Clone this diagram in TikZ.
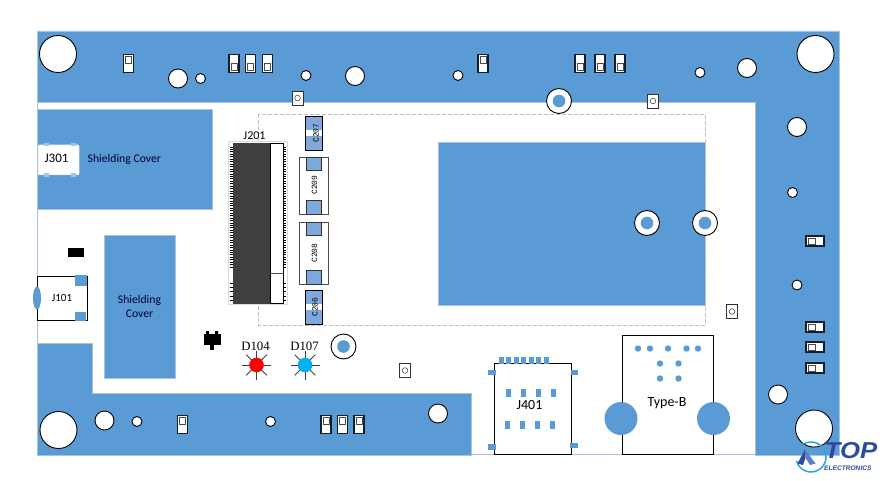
\documentclass[tikz,border=0pt]{standalone}
\usepackage{fontspec}
\setmainfont{Carlito}
\newfontfamily\serifcode{Liberation Serif}
\newfontfamily\monocode{Liberation Mono}
\newfontfamily\logofont{Liberation Sans}
\usetikzlibrary{calc}
\definecolor{pcb}{HTML}{5B9BD5}
\definecolor{pcbedge}{HTML}{A9C4E0}
\definecolor{padblue}{HTML}{7FA8DC}
\definecolor{darkic}{HTML}{404040}
\definecolor{logoblue}{HTML}{2E4A9E}
\definecolor{logomid}{HTML}{5B7FC4}
\definecolor{logocyan}{HTML}{2FA5DC}
\definecolor{ledblue}{HTML}{00B0F0}
\tikzset{
  pcbfill/.style={fill=pcb,draw=pcbedge,line width=.8pt},
  lbl/.style={inner sep=0pt,text=black,font=\fontsize{11}{12}\selectfont},
  lblshield/.style={inner sep=0pt,text=black!80!blue,font=\fontsize{11.7}{13}\selectfont},
  lblbig/.style={inner sep=0pt,text=black,font=\fontsize{14}{15}\selectfont},
  hole/.style={circle,draw=black,fill=white,line width=.9pt,inner sep=0pt},
  smdbox/.style={draw=black!80!pcb,fill=white,line width=1.1pt},
  smdin/.style={draw=black!70,fill=white,line width=.8pt},
  clabel/.style={inner sep=0pt,rotate=90,font=\monocode\fontsize{8}{9}\selectfont,text=black},
  ray/.style={draw=black!75,line width=.9pt},
}
\newcommand{\vertup}[2]{%
  \draw[smdbox] (#1-5,#2-9) rectangle (#1+5,#2+9);
  \draw[smdin] (#1-3,#2-7) rectangle (#1+3,#2);}
\newcommand{\vertdn}[2]{%
  \draw[smdbox] (#1-5,#2-9) rectangle (#1+5,#2+9);
  \draw[smdin] (#1-3,#2) rectangle (#1+3,#2+7);}
\newcommand{\horiz}[2]{%
  \draw[smdbox] (#1-9,#2-5) rectangle (#1+9,#2+5);
  \draw[smdin] (#1-7,#2-3) rectangle (#1,#2+3);}
\newcommand{\testpt}[2]{%
  \draw[draw=black!80,fill=white,line width=.9pt] (#1-5.5,#2-7) rectangle (#1+5.5,#2+7);
  \draw[black!70,line width=.6pt] (#1,#2) circle (2.8);}
\newcommand{\ringhole}[2]{%
  \draw[fill=white,draw=black,line width=.9pt] (#1,#2) circle (12.5);
  \fill[pcb] (#1,#2) circle (6.3);}
\newcommand{\led}[3]{%
  \foreach \a in {0,45,...,315}{\draw[ray] ($(#1,#2)+(\a:6)$) -- ($(#1,#2)+(\a:14.5)$);}
  \fill[#3] (#1,#2) circle (7.3);}
\begin{document}
\begin{tikzpicture}[x=1pt,y=-1pt]
\useasboundingbox (0,0) rectangle (885,481);
\fill[white] (0,0) rectangle (885,481);
% board copper
\draw[pcbfill] (37,31) -- (839,31) -- (839,455) -- (755,455) -- (755,102) -- (37,102) -- cycle;
\draw[pcbfill] (37,343) -- (92,343) -- (92,393) -- (471,393) -- (471,455) -- (37,455) -- cycle;
\draw[pcbedge,line width=.8pt] (37,102) -- (37,343) (471,454.5) -- (755,454.5);
% shielding
\draw[pcbfill] (37,109) rectangle (212.500,209);
\draw[pcbfill] (104,235) rectangle (175,378);
\draw[pcbfill] (438,142) rectangle (705,305);
\draw[black!25,line width=.7pt,dash pattern=on 4pt off 2pt] (258,114) rectangle (705,325);
\node[lblshield,anchor=west] (sc1) at (87.500,159.500) {Shielding Cover};
\node[lblshield,align=center] (sc2) at (139.500,306.500) {Shielding\\[1pt]Cover};
% J301
\draw[fill=white,draw=black!15,line width=.5pt,rounded corners=1pt] (38,145) rectangle (79,175);
\foreach \x in {46,73}{\fill[pcbedge] (\x-2.500,143) rectangle (\x+2.500,146.500); \fill[pcbedge] (\x-2.500,173.500) rectangle (\x+2.500,177);}
\node[inner sep=0pt,font=\fontsize{13}{14}\selectfont] (j301) at (56.500,158) {J301};
% J101
\fill[black] (68,248) rectangle (83.500,256.500);
\draw[draw=black,fill=white,line width=.8pt] (37,276.500) rectangle (87,320.500);
\fill[pcb] (75,275) rectangle (87,286);
\fill[pcb] (75,312) rectangle (86,321);
\fill[pcb] (37,298) ellipse (4 and 11.500);
\node[lbl] (j101) at (62,298) {J101};
% J201
\draw[draw=black!15,fill=white,line width=1pt] (228,142) rectangle (287,304);
\node[lbl,font=\fontsize{12}{13}\selectfont] (j201) at (254.500,135.500) {J201};
\foreach \i in {0,...,49}{\draw[black,line width=.8pt] (229.500,{147+\i*2.45}) -- (233,{147+\i*2.45}); \draw[black,line width=.8pt] (283,{147+\i*2.45}) -- (286,{147+\i*2.45});}
\foreach \i in {0,...,4}{\draw[black,line width=.8pt] (229.500,{283+\i*4.3}) -- (233,{283+\i*4.3}); \draw[black,line width=.8pt] (283,{283+\i*4.3}) -- (286,{283+\i*4.3});}
\fill[darkic] (232.500,143.500) rectangle (270.500,303.500);
\draw[draw=black,fill=white,line width=.8pt] (270.500,143.500) rectangle (283,303);
\draw[black!70,line width=.8pt] (270.500,273.500) -- (283,273.500);
% capacitors
\draw[fill=padblue,draw=black,line width=.7pt] (305,116.500) rectangle (322,150);
\fill[white] (305.500,130.500) rectangle (321.500,136.500);
\node[clabel] (c207) at (316,133) {C207};
\draw[draw=black!70,fill=white,line width=.9pt] (299.500,157) rectangle (328,214);
\draw[fill=padblue,draw=black!80,line width=.7pt] (306.500,157) rectangle (321.500,170);
\draw[fill=padblue,draw=black!80,line width=.7pt] (306.500,200) rectangle (321.500,214);
\node[clabel] (c209) at (314.500,185) {C209};
\draw[draw=black!70,fill=white,line width=.9pt] (299.500,222) rectangle (328,284);
\draw[fill=padblue,draw=black!80,line width=.7pt] (306.500,222) rectangle (321.500,235);
\draw[fill=padblue,draw=black!80,line width=.7pt] (306.500,270) rectangle (321.500,284);
\node[clabel] (c208) at (314.500,253) {C208};
\draw[fill=padblue,draw=black,line width=.7pt] (305.500,290.500) rectangle (322,324);
\fill[white] (306,304) rectangle (321.500,310);
\node[clabel] (c206) at (315,307) {C206};
% holes
\foreach \n/\x/\y in {a/58/54,b/815.500/54,c/58.500/430,d/814/428.500}{\node[hole,minimum size=37pt] (big\n) at (\x,\y) {};}
\foreach \n/\x/\y in {a/178/78.500,b/355/76,c/747/68,d/104.500/420.500,e/438/413.500,f/797/127,g/778/394.500}{\node[hole,minimum size=19pt] (mid\n) at (\x,\y) {};}
\foreach \n/\x/\y in {a/200.500/78.500,b/306/75.500,c/458/75.500,d/700/72.500,e/137/421.500,f/270.500/421.500,g/792.500/192.500,h/797/285}{\node[hole,minimum size=10pt] (sm\n) at (\x,\y) {};}
\ringhole{559}{101}
\ringhole{647}{223}
\ringhole{705}{223}
\ringhole{343.500}{346.500}
% test points
\testpt{297.500}{98}
\testpt{653}{101}
\testpt{732}{311.500}
\testpt{405}{370.500}
% SMD pads
\vertup{128.500}{63.500}
\vertup{182.500}{424.500}
\vertup{326}{424.500}
\vertup{342.500}{424.500}
\vertup{359}{424.500}
\vertup{483}{63.500}
\vertdn{234}{63.500}
\vertdn{250.500}{63.500}
\vertdn{267.500}{63.500}
\vertdn{580}{63.500}
\vertdn{600}{63.500}
\vertdn{620}{63.500}
\horiz{815}{241}
\horiz{815}{327}
\horiz{815}{347}
\horiz{815}{368}
% black mark
\fill[black] (203.500,334) rectangle (220.500,345);
\fill[black] (206,331) rectangle (209,335) (215,331) rectangle (218,335);
\fill[black] (210,344) rectangle (214,350);
% LEDs
\led{256.500}{365}{red}
\led{305}{365}{ledblue}
\node[inner sep=0pt,font=\serifcode\fontsize{12.8}{14}\selectfont] (d104) at (255.500,346) {D104};
\node[inner sep=0pt,font=\serifcode\fontsize{12.8}{14}\selectfont] (d107) at (304.500,346) {D107};
% J401
\foreach \x in {506,521,536,551}{\fill[pcb] (\x,388.500) rectangle (\x+5,396.500);}
\foreach \x in {505,520,535,550}{\fill[pcb] (\x,421) rectangle (\x+5,429);}
\draw[draw=black,line width=.8pt] (494,363.500) rectangle (571.500,454);
\foreach \i in {0,...,6}{\fill[pcb] ({498.500+\i*7.5},357) rectangle ({503.500+\i*7.5},364);}
\fill[pcb] (487.500,369.500) rectangle (495.500,375);
\fill[pcb] (570.500,370) rectangle (578,375);
\fill[pcb] (487.500,444) rectangle (495.500,449.500);
\fill[pcb] (570,442.500) rectangle (578,447.500);
\node[lblbig] (j401) at (529.500,405) {J401};
% Type-B
\draw[draw=black,fill=white,line width=.8pt] (622.500,335.500) rectangle (713.500,454.500);
\foreach \x/\y in {638/348.500,650/348.500,668/348.500,686.500/348.500,698/348.500,660/363.500,678.500/363.500,660/378.500,678.500/378.500}{\fill[pcb] (\x,\y) circle (3.2);}
\fill[pcb] (621,418.500) circle (16.500);
\fill[pcb] (713.500,418.500) circle (16.500);
\node[lblbig] (typeb) at (667,403) {Type-B};
% logo
\coordinate (logoc) at (811,457);
\draw[logocyan,line width=1.5pt] ($(logoc)+(-125:15)$) arc (-125:165:15);
\fill[logoblue] (805,449.500) -- (797.500,463.500) -- (803,465) -- (805.500,458) -- cycle;
\fill[logomid] (805,449.500) -- (815.500,463.500) -- (810,465) -- (805.500,458) -- cycle;
\node[inner sep=0pt,anchor=west,text=logoblue,font=\logofont\bfseries\itshape\fontsize{23}{24}\selectfont,xscale=1.12] (logotop) at (824.500,451) {TOP};
\node[inner sep=0pt,anchor=west,text=logoblue,font=\logofont\bfseries\itshape\fontsize{6.6}{7}\selectfont] (logoel) at (824,468.500) {ELECTRONICS};
\end{tikzpicture}
\end{document}
